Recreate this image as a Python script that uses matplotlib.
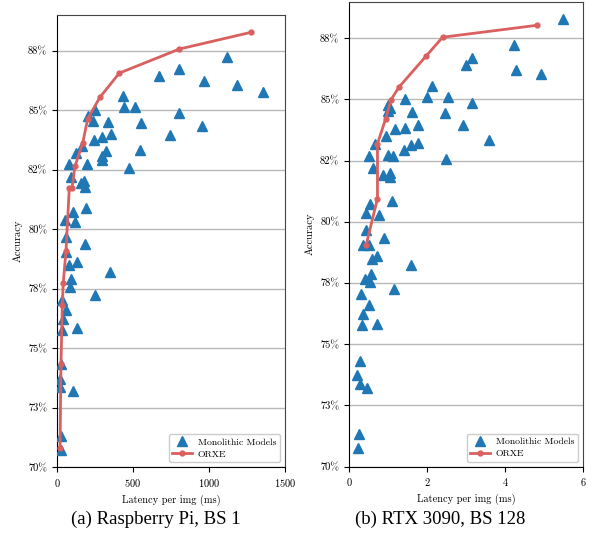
import matplotlib
matplotlib.use("Agg")
import matplotlib.pyplot as plt

plt.rcParams['font.family'] = ['cmr10', 'DejaVu Serif']
plt.rcParams['axes.formatter.use_mathtext'] = True

# --- Raspberry Pi, BS 1 (latency in ms, accuracy in %) ---
pi_mono_lat = [1120, 673, 805, 967, 1184, 1357, 434, 439, 511, 805, 553, 954, 745, 546, 474,
               204, 250, 239, 338, 355, 296, 241, 166, 125, 322, 294, 294,
               81, 197, 92, 158, 180, 182, 191, 103, 55, 116, 59, 182, 59, 130, 81, 349, 90,
               86, 250, 30, 59, 41, 31, 130, 26, 23, 23, 105, 28, 24]
pi_mono_acc = [87.23, 86.42, 86.73, 86.24, 86.06, 85.76, 85.58, 85.13, 85.13, 84.88, 84.48, 84.32, 83.97, 83.34, 82.59,
               84.77, 84.99, 84.56, 84.50, 84.01, 83.88, 83.77, 83.51, 83.20, 83.27, 83.09, 82.92,
               82.72, 82.75, 82.19, 81.94, 82.01, 81.79, 80.89, 80.72, 80.37, 80.30, 79.69, 79.39, 79.06, 78.64, 78.50, 78.22, 77.90,
               77.59, 77.24, 77.03, 76.61, 76.22, 75.77, 75.84, 74.33, 73.70, 73.38, 73.19, 71.32, 70.74]
pi_orxe_lat = [20, 26, 35, 41, 59, 81, 99, 118, 169, 202, 283, 410, 805, 1274]
pi_orxe_acc = [70.80, 74.33, 76.82, 77.73, 79.09, 81.75, 81.75, 82.64, 83.62, 84.64, 85.55, 86.56, 87.57, 88.27]

# --- RTX 3090, BS 128 ---
gpu_mono_lat = [5.48, 4.22, 3.16, 2.99, 4.28, 4.92, 2.13, 2.00, 2.53, 1.44, 3.16, 1.01, 1.05, 0.99, 1.61,
                2.46, 1.77, 2.93, 1.44, 1.18, 0.94, 3.59, 0.67, 1.77, 1.60, 1.42, 0.51, 1.01, 1.12, 2.49,
                0.62, 0.87, 1.04, 1.06, 0.54, 1.09, 0.43, 0.76, 0.44, 0.90, 0.37, 0.51, 0.59, 0.72, 1.59,
                0.42, 0.56, 0.54, 0.32, 1.15, 0.51, 0.35, 0.34, 0.73, 0.28, 0.20, 0.28, 0.45, 0.26, 0.24]
gpu_mono_acc = [88.30, 87.21, 86.70, 86.40, 86.19, 86.03, 85.54, 85.11, 85.11, 85.00, 84.86, 84.79, 84.66, 84.52, 84.47,
                84.46, 83.96, 83.95, 83.84, 83.78, 83.51, 83.33, 83.17, 83.23, 83.12, 82.93, 82.69, 82.72, 82.69, 82.58,
                82.18, 81.90, 82.01, 81.82, 80.72, 80.87, 80.35, 80.30, 79.66, 79.36, 79.05, 79.06, 78.49, 78.62, 78.22,
                77.68, 77.86, 77.53, 77.06, 77.24, 76.62, 76.22, 75.77, 75.84, 74.32, 73.73, 73.38, 73.20, 71.33, 70.76]
gpu_orxe_lat = [0.44, 0.73, 0.73, 0.94, 1.07, 1.28, 1.97, 2.40, 4.83]
gpu_orxe_acc = [79.06, 80.95, 83.19, 84.21, 84.97, 85.50, 86.76, 87.54, 88.03]

ytick_pos = [70, 72.5, 75, 77.5, 80, 82.5, 85, 87.5]
ytick_lab = ['70%', '73%', '75%', '78%', '80%', '82%', '85%', '88%']
captions = ['(a) Raspberry Pi, BS 1', '(b) RTX 3090, BS 128']

blue = '#1f77b4'
red = '#d9605f'

fig = plt.figure(figsize=(5.92, 5.37), dpi=100)
ax1 = fig.add_axes([57/592, 1-467.3/537, 228/592, 452.3/537])
ax2 = fig.add_axes([349/592, 1-466.7/537, 234/592, 465.2/537])


def draw(ax, mlat, macc, olat, oacc, xlim, xticks):
    ax.grid(True, axis='y', color='#b8b8b8', lw=1.0, zorder=0)
    ax.set_axisbelow(True)
    ax.plot(mlat, macc, '^', color=blue, ms=7.5, ls='none', label='Monolithic Models', zorder=3)
    ax.plot(olat, oacc, '-o', color=red, lw=2, ms=3.5, label='ORXE', zorder=4)
    ax.set_xlim(*xlim)
    ax.set_ylim(70, 89.0)
    ax.set_xticks(xticks)
    ax.set_yticks(ytick_pos)
    ax.set_yticklabels(ytick_lab)
    ax.tick_params(labelsize=7.5, length=3.5)
    ax.set_xlabel('Latency per img (ms)', fontsize=7.5)
    ax.set_ylabel('Accuracy', fontsize=7.5)
    for s in ['top', 'right']:
        ax.spines[s].set_color('#444444')
    ax.legend(loc='lower right', fontsize=7, handletextpad=0.6, borderpad=0.4,
              labelspacing=0.3, framealpha=1, edgecolor='#cccccc', fancybox=True)


draw(ax1, pi_mono_lat, pi_mono_acc, pi_orxe_lat, pi_orxe_acc, (0, 1500), [0, 500, 1000, 1500])
draw(ax2, gpu_mono_lat, gpu_mono_acc, gpu_orxe_lat, gpu_orxe_acc, (0, 6), [0, 2, 4, 6])

fig.text(156/592, 1-519/537, captions[0], ha='center', va='center',
         family='Liberation Serif', fontsize=13.5)
fig.text(440/592, 1-519/537, captions[1], ha='center', va='center',
         family='Liberation Serif', fontsize=13.5)

fig.savefig('out.png', dpi=100)
